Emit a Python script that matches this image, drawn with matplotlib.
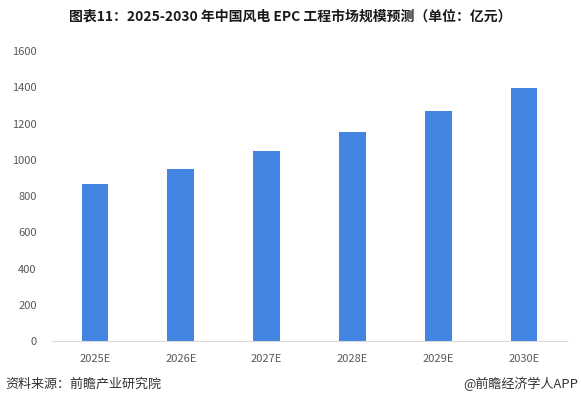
import matplotlib.pyplot as plt

plt.rcParams['font.family'] = ['Noto Sans CJK SC', 'DejaVu Sans']

# 数据
years = ['2025E', '2026E', '2027E', '2028E', '2029E', '2030E']
market_size = [866, 950, 1050, 1153, 1269, 1396]
y_ticks = [0, 200, 400, 600, 800, 1000, 1200, 1400, 1600]

fig = plt.figure(figsize=(5.81, 3.97), dpi=100)
ax = fig.add_axes([0.0895, 0.141, 0.8865, 0.7305])

ax.bar(range(len(years)), market_size, width=0.31, color='#4285E2')

ax.set_xlim(-0.5, len(years) - 0.5)
ax.set_ylim(0, 1600)
ax.set_yticks(y_ticks)
ax.set_xticks(range(len(years)))
ax.set_xticklabels(years)
ax.tick_params(axis='both', length=0, labelsize=8, colors='#595959')
ax.tick_params(axis='y', pad=11)
ax.tick_params(axis='x', pad=9)

for side in ['top', 'right', 'left']:
    ax.spines[side].set_visible(False)
ax.spines['bottom'].set_color('#D9D9D9')

fig.text(0.5, 0.958, '图表11：2025-2030 年中国风电 EPC 工程市场规模预测（单位：亿元）',
         ha='center', va='center', fontsize=10, fontweight='bold', color='#1a1a1a')
fig.text(0.009, 0.033, '资料来源：前瞻产业研究院', ha='left', va='center',
         fontsize=9.4, color='#333333')
fig.text(0.995, 0.033, '@前瞻经济学人APP', ha='right', va='center',
         fontsize=9.4, color='#333333')

fig.savefig('out.png', dpi=100)
